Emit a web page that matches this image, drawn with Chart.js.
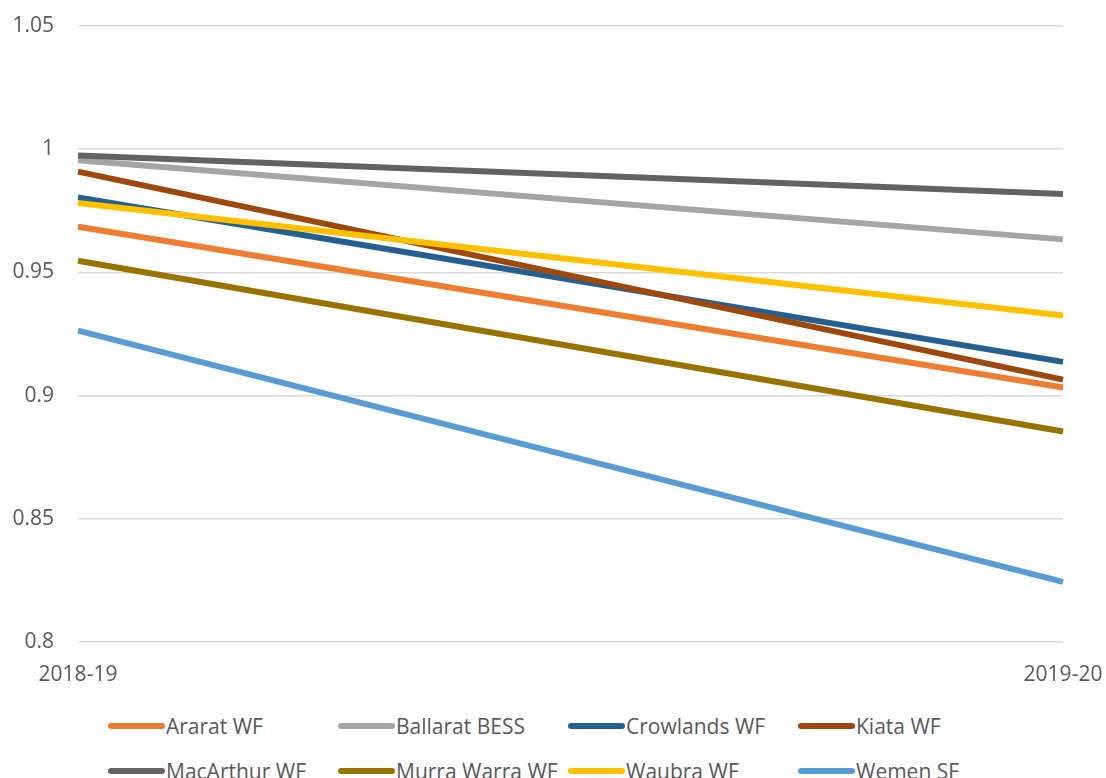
<!DOCTYPE html>
<html>
<head>
<meta charset="utf-8">
<script src="https://cdn.jsdelivr.net/npm/chart.js@4"></script>
<style>
  body { margin: 0; background: #fff; overflow: hidden; }
  #wrap { position: relative; width: 1106px; height: 778px; overflow: hidden; }
  #legend {
    position: absolute; left: 108px; top: 709px;
    display: grid; grid-template-columns: repeat(4, 230px); grid-auto-rows: 45px;
    font-family: "Open Sans", sans-serif; font-size: 21px; color: #595959;
  }
  .item { display: flex; align-items: center; height: 34px; white-space: nowrap; }
  .swatch { display: inline-block; width: 57px; height: 6px; border-radius: 3px; margin-right: 1px; }
</style>
</head>
<body>
<div id="wrap">
  <canvas id="myChart" width="1106" height="700"></canvas>
  <div id="legend"></div>
</div>
<script>
// data
const periods = ['2018-19', '2019-20'];

const araratWF = [0.9685, 0.9033];
const ballaratBESS = [0.9955, 0.9634];
const crowlandsWF = [0.9804, 0.9137];
const kiataWF = [0.9909, 0.9065];
const macarthurWF = [0.9974, 0.9818];
const murraWarraWF = [0.9547, 0.8854];
const waubraWF = [0.9782, 0.9325];
const wemenSF = [0.9264, 0.8244];

const seriesNames = ['Ararat WF', 'Ballarat BESS', 'Crowlands WF', 'Kiata WF',
    'MacArthur WF', 'Murra Warra WF', 'Waubra WF', 'Wemen SF'];
const seriesValues = [araratWF, ballaratBESS, crowlandsWF, kiataWF,
    macarthurWF, murraWarraWF, waubraWF, wemenSF];

const seriesColors = ['#ED7D31', '#A5A5A5', '#255E91', '#9E480E',
    '#636363', '#997300', '#FFC000', '#5B9BD5'];

const yTicks = [0.8, 0.85, 0.9, 0.95, 1, 1.05];

let datasets = [];
for (let i = 0; i < seriesNames.length; i++) {
    datasets.push({
        label: seriesNames[i],
        data: seriesValues[i],
        borderColor: seriesColors[i],
        backgroundColor: seriesColors[i],
        borderWidth: 6,
        borderCapStyle: 'butt',
        pointRadius: 0,
        tension: 0,
        // later series drawn on top, like the original
        order: seriesNames.length - i
    });
}

const tickFont = { family: '"Open Sans", sans-serif', size: 21 };

const config = {
    type: 'line',
    data: {
        labels: periods,
        datasets: datasets
    },
    options: {
        responsive: false,
        animation: false,
        layout: { padding: { left: 12, right: 43, top: 26, bottom: 12 } },
        plugins: {
            legend: { display: false },
            tooltip: { enabled: false }
        },
        scales: {
            x: {
                offset: false,
                afterFit: function(scale) {
                    scale.height = 46;
                    scale.paddingLeft = 0;
                    scale.paddingRight = 0;
                },
                grid: { display: false, drawTicks: false },
                border: { display: false },
                ticks: { color: '#595959', font: tickFont, padding: 20, maxRotation: 0 }
            },
            y: {
                min: yTicks[0],
                max: yTicks[yTicks.length - 1],
                afterBuildTicks: function(scale) {
                    scale.ticks = yTicks.map(v => ({ value: v }));
                },
                afterFit: function(scale) {
                    scale.width = 66;
                    scale.paddingTop = 0;
                    scale.paddingBottom = 0;
                },
                grid: { color: '#D9D9D9', lineWidth: 1.5, drawTicks: false },
                border: { display: false },
                ticks: {
                    color: '#595959',
                    font: tickFont,
                    padding: 24,
                    callback: v => String(+v.toFixed(2))
                }
            }
        }
    }
};

let lineChart = new Chart(document.getElementById('myChart'), config);

// legend in a fixed four-column grid, as in the original
let legendBox = document.getElementById('legend');
for (let i = 0; i < seriesNames.length; i++) {
    let item = document.createElement('div');
    item.className = 'item';
    let sw = document.createElement('span');
    sw.className = 'swatch';
    sw.style.background = seriesColors[i];
    item.appendChild(sw);
    item.appendChild(document.createTextNode(seriesNames[i]));
    legendBox.appendChild(item);
}
</script>
</body>
</html>
